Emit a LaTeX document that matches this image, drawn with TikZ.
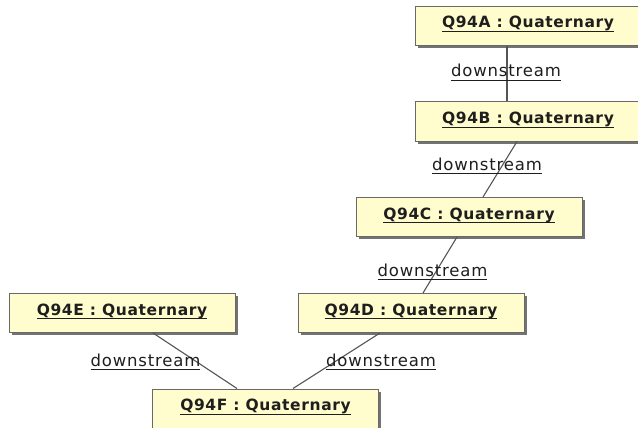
\documentclass[tikz,border=0pt]{standalone}
\usepackage{fontspec}
\setmainfont{DejaVu Sans}
\newfontfamily\boxfont[LetterSpace=4]{DejaVu Sans}
\newfontfamily\linkfont[LetterSpace=5]{DejaVu Sans}
\usetikzlibrary{shadows}

% underlined text: a rule 3.3pt below the baseline, 1.1pt thick
\newsavebox{\ulnbox}
\newcommand{\uln}[1]{\sbox{\ulnbox}{#1}%
  \rlap{\vrule height -3.3pt depth 4.4pt width \wd\ulnbox}\usebox{\ulnbox}}

\definecolor{boxfill}{RGB}{255,252,205}
\definecolor{boxline}{RGB}{105,105,105}
\definecolor{linecol}{RGB}{85,85,85}
\definecolor{txt}{RGB}{30,30,30}

\tikzset{
  obj/.style={draw=boxline, line width=1pt, fill=boxfill,
    minimum width=226pt, minimum height=39pt, inner sep=0pt,
    text height=11pt, text depth=7pt, text=txt,
    font=\boxfont\fontsize{15.5}{18}\selectfont\bfseries,
    drop shadow={shadow xshift=2.5pt, shadow yshift=-2.5pt, fill=black!55, opacity=1}},
  assoc/.style={draw=linecol, line width=1.1pt},
  role/.style={font=\linkfont\fontsize{16.5}{19}\selectfont, text=txt,
    inner sep=0pt, anchor=base}
}

\begin{document}
\begin{tikzpicture}[x=1pt, y=-1pt]
  \useasboundingbox (0,0) rectangle (638,428);

  % objects
  \node[obj] (A) at (528,26)    {\uln{Q94A : Quaternary}};
  \node[obj] (B) at (528,121.5) {\uln{Q94B : Quaternary}};
  \node[obj] (C) at (469,217)   {\uln{Q94C : Quaternary}};
  \node[obj] (D) at (411,313)   {\uln{Q94D : Quaternary}};
  \node[obj] (E) at (122,313)   {\uln{Q94E : Quaternary}};
  \node[obj] (F) at (265.5,408.5) {\uln{Q94F : Quaternary}};

  % links
  \draw[assoc] ([xshift=-21pt]A.south) -- ([xshift=-21pt]B.north);
  \draw[assoc] ([xshift=-11pt]B.south) -- ([xshift=14pt]C.north);
  \draw[assoc] ([xshift=-12pt]C.south) -- ([xshift=12pt]D.north);
  \draw[assoc] ([xshift=-31pt]D.south) -- ([xshift=27.5pt]F.north);
  \draw[assoc] ([xshift=31pt]E.south) -- ([xshift=-28.5pt]F.north);

  % role names
  \node[role] (rAB) at (506,77)    {\uln{downstream}};
  \node[role] (rBC) at (487,170)   {\uln{downstream}};
  \node[role] (rCD) at (432.5,276) {\uln{downstream}};
  \node[role] (rEF) at (145.5,366) {\uln{downstream}};
  \node[role] (rDF) at (381,366)   {\uln{downstream}};
\end{tikzpicture}
\end{document}
